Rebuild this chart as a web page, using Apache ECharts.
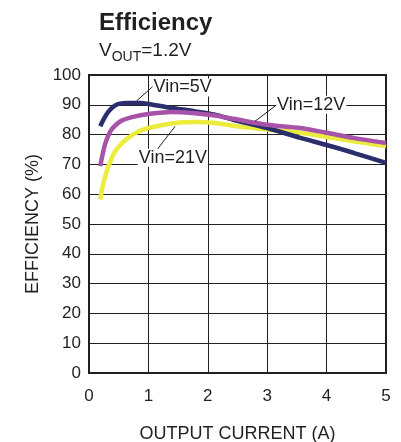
<!DOCTYPE html>
<html>
<head>
<meta charset="utf-8">
<script src="https://cdn.jsdelivr.net/npm/echarts@6/dist/echarts.min.js"></script>
<style>
html,body{margin:0;padding:0;background:#fff;}
#c{width:401px;height:442px;}
</style>
</head>
<body>
<div id="c"></div>
<script>
// ---- data ----
var xTicks = [0, 1, 2, 3, 4, 5];
var yTicks = [0, 10, 20, 30, 40, 50, 60, 70, 80, 90, 100];

var vin5X  = [0.19,0.25,0.33,0.42,0.5,0.66,0.85,1.0,1.34,1.79,2.12,2.43,3.0,3.56,4.0,4.45,5.0];
var vin5Y  = [82.8,85.3,87.8,89.5,90.3,90.6,90.6,90.3,89.1,87.8,86.7,85.0,82.2,78.9,76.5,73.9,70.5];

var vin12X = [0.19,0.23,0.27,0.32,0.38,0.46,0.55,0.78,1.0,1.39,1.79,2.12,2.43,3.0,3.56,4.0,4.45,5.0];
var vin12Y = [69.4,73.5,76.7,79.5,81.7,83.4,84.7,86.1,86.9,87.6,87.2,86.4,85.3,83.3,82.2,80.6,78.9,77.2];

var vin21X = [0.19,0.24,0.30,0.37,0.44,0.55,0.66,0.8,1.0,1.45,1.79,2.12,2.43,3.0,3.56,4.0,4.45,5.0];
var vin21Y = [58.3,63.5,67.8,71.5,74.4,77.0,78.9,80.7,82.2,83.9,84.2,83.9,83.0,81.7,80.6,79.2,77.8,76.1];

// annotation texts, anchors (data coords) and leader lines
var labelTexts = ['Vin=5V', 'Vin=12V', 'Vin=21V'];
var labelX = [1.07, 3.15, 0.82];
var labelY = [95.8, 90.0, 72.2];
var leaderFrom = [[0.80, 91.3], [2.79, 84.4], [1.45, 82.8]];
var leaderTo   = [[1.10, 96.6], [3.20, 90.6], [1.14, 74.8]];

function pairs(xs, ys){ return xs.map(function(x,i){ return [x, ys[i]]; }); }

var FONT = '"Liberation Sans", Arial, sans-serif';
var INK = '#231f20';

var chart = echarts.init(document.getElementById('c'), null, {renderer:'canvas'});

var leaderSeries = leaderFrom.map(function(f, i){
  return {
    type: 'line', data: [f, leaderTo[i]], showSymbol: false, silent: true,
    lineStyle: {color: INK, width: 1}, z: 5, animation: false
  };
});

chart.setOption({
  animation: false,
  title: {
    text: 'Efficiency',
    subtext: '{v|V}{s|OUT}{v|=1.2V}',
    left: 94, top: 6, itemGap: 6,
    textStyle: {fontFamily: FONT, fontSize: 24, fontWeight: 'bold', color: INK},
    subtextStyle: {
      fontFamily: FONT, color: INK,
      rich: {
        v: {fontFamily: FONT, fontSize: 19, color: INK, verticalAlign: 'bottom'},
        s: {fontFamily: FONT, fontSize: 14, color: INK, verticalAlign: 'bottom', padding: [0,0,-4,0]}
      }
    }
  },
  grid: {left: 89, right: 15, top: 75, bottom: 69, containLabel: false, outerBoundsMode: 'none',
         show: true, borderColor: INK, borderWidth: 2, backgroundColor: 'transparent'},
  xAxis: {
    type: 'value', min: xTicks[0], max: xTicks[xTicks.length-1], interval: 1,
    name: 'OUTPUT CURRENT (A)', nameLocation: 'middle', nameGap: 52,
    nameTextStyle: {fontFamily: FONT, fontSize: 18, color: INK},
    axisLine: {show: true, lineStyle: {color: INK, width: 2}},
    axisTick: {show: false},
    axisLabel: {fontFamily: FONT, fontSize: 17, color: INK, margin: 15},
    splitLine: {show: true, lineStyle: {color: INK, width: 1}}
  },
  yAxis: {
    type: 'value', min: yTicks[0], max: yTicks[yTicks.length-1], interval: 10,
    name: 'EFFICIENCY (%)', nameLocation: 'middle', nameGap: 46, nameRotate: 90,
    nameTextStyle: {fontFamily: FONT, fontSize: 18, color: INK},
    axisLine: {show: true, lineStyle: {color: INK, width: 2}},
    axisTick: {show: false},
    axisLabel: {fontFamily: FONT, fontSize: 17, color: INK, margin: 8},
    splitLine: {show: true, lineStyle: {color: INK, width: 1}}
  },
  series: leaderSeries.concat([
    {name: 'Vin=21V', type: 'line', data: pairs(vin21X, vin21Y), smooth: 0.3, showSymbol: false,
     lineStyle: {color: '#ecec3e', width: 4.5}, z: 2},
    {name: 'Vin=5V', type: 'line', data: pairs(vin5X, vin5Y), smooth: 0.3, showSymbol: false,
     lineStyle: {color: '#2b2e6c', width: 4.5}, z: 3},
    {name: 'Vin=12V', type: 'line', data: pairs(vin12X, vin12Y), smooth: 0.3, showSymbol: false,
     lineStyle: {color: '#a653a9', width: 4.5}, z: 4},
    {type: 'scatter', symbolSize: 0, z: 10, silent: true,
     itemStyle: {opacity: 1},
     data: labelTexts.map(function(t, i){ return {name: t, value: [labelX[i], labelY[i]]}; }),
     label: {show: true, position: 'right', distance: 0, formatter: '{b}', opacity: 1,
       fontFamily: FONT, fontSize: 18, color: INK, backgroundColor: '#fff', padding: [0, 1, 0, 1]}}
  ])
});
</script>
</body>
</html>
